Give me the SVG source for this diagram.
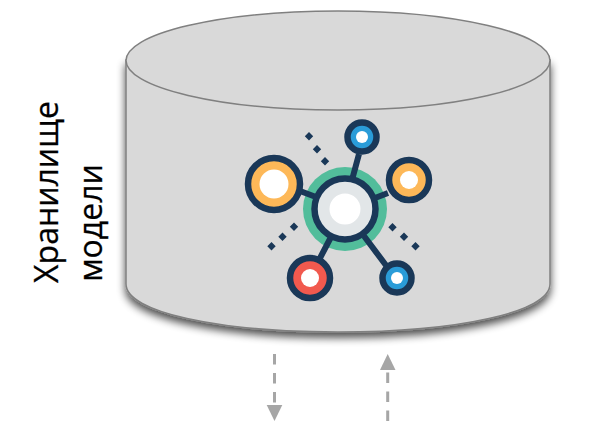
<svg xmlns="http://www.w3.org/2000/svg" width="597" height="422" viewBox="0 0 597 422">
<style>
.ring{stroke:#1a3858;stroke-width:6.500}
.link{stroke:#1a3858;stroke-width:6;fill:none}
.hole{fill:#fff}
.dot{fill:#1a3858}
.lbl{font-family:"Open Sans","Liberation Sans",sans-serif;font-size:32px;fill:#000;text-anchor:middle;stroke:#000;stroke-width:.25}
.flow{stroke:#a6a6a6;stroke-width:3;stroke-dasharray:10.500 8.500;fill:none}
.head{fill:#a6a6a6}
</style>
<defs>
<filter id="sh" x="-10%" y="-10%" width="120%" height="125%">
<feGaussianBlur in="SourceAlpha" stdDeviation="4.500"/>
<feOffset dx="0" dy="5"/>
<feComponentTransfer><feFuncA type="linear" slope="0.7"/></feComponentTransfer>
<feMerge><feMergeNode/><feMergeNode in="SourceGraphic"/></feMerge>
</filter>
</defs>
<g id="cylinder">
<path d="M126 60V284C126 312 218 332 338 332C458 332 550 312 550 284V60Z" fill="#d9d9d9" stroke="#808080" stroke-width="1.500" filter="url(#sh)"/>
<ellipse cx="338" cy="60.500" rx="212" ry="49.500" fill="#d9d9d9" stroke="#808080" stroke-width="1.500"/>
</g>
<g id="label">
<text class="lbl" transform="translate(58 192) rotate(-90)">Хранилище</text>
<text class="lbl" transform="translate(102 223) rotate(-90)">модели</text>
</g>
<g id="connectors">
<path class="flow" d="M274.500 354V405"/>
<path class="head" d="M266.700 405H282.300L274.500 421Z"/>
<path class="flow" d="M387.700 421V372"/>
<path class="head" d="M380 370H395.500L387.700 354Z"/>
</g>
<g id="network">
<circle cx="345" cy="209" r="42" fill="#52bd9b"/>
<path class="link" d="M359 154L352 180M300 191L316 197M388 193L375 198M331 237L319 260M364 236L388 268"/>
<circle class="ring" cx="345" cy="209" r="30.500" fill="#e2e6e8"/>
<circle class="hole" cx="345" cy="209" r="15.500"/>
<circle class="ring" cx="274" cy="184" r="26" fill="#fdb858"/>
<circle class="hole" cx="274" cy="184" r="14.500"/>
<circle class="ring" cx="409" cy="180" r="20" fill="#fdb858"/>
<circle class="hole" cx="409" cy="180" r="9"/>
<circle class="ring" cx="362" cy="137" r="14.500" fill="#2a9cd8"/>
<circle class="hole" cx="362" cy="137" r="6"/>
<circle class="ring" cx="310" cy="278" r="20" fill="#f1594e"/>
<circle class="hole" cx="310" cy="278" r="9"/>
<circle class="ring" cx="397" cy="278" r="14.500" fill="#2a9cd8"/>
<circle class="hole" cx="397" cy="278" r="6"/>
<g class="dot">
<path d="M309 132l4.200 4.200l-4.200 4.200l-4.200-4.200ZM317 145l4.200 4.200l-4.200 4.200l-4.200-4.200ZM325 157l4.200 4.200l-4.200 4.200l-4.200-4.200Z"/>
<path d="M294 222.500l4.200 4.200l-4.200 4.200l-4.200-4.200ZM282.500 232.500l4.200 4.200l-4.200 4.200l-4.200-4.200ZM271.500 242l4.200 4.200l-4.200 4.200l-4.200-4.200Z"/>
<path d="M392.500 223l4.200 4.200l-4.200 4.200l-4.200-4.200ZM404 232.500l4.200 4.200l-4.200 4.200l-4.200-4.200ZM415.500 242l4.200 4.200l-4.200 4.200l-4.200-4.200Z"/>
</g>
</g>
</svg>
